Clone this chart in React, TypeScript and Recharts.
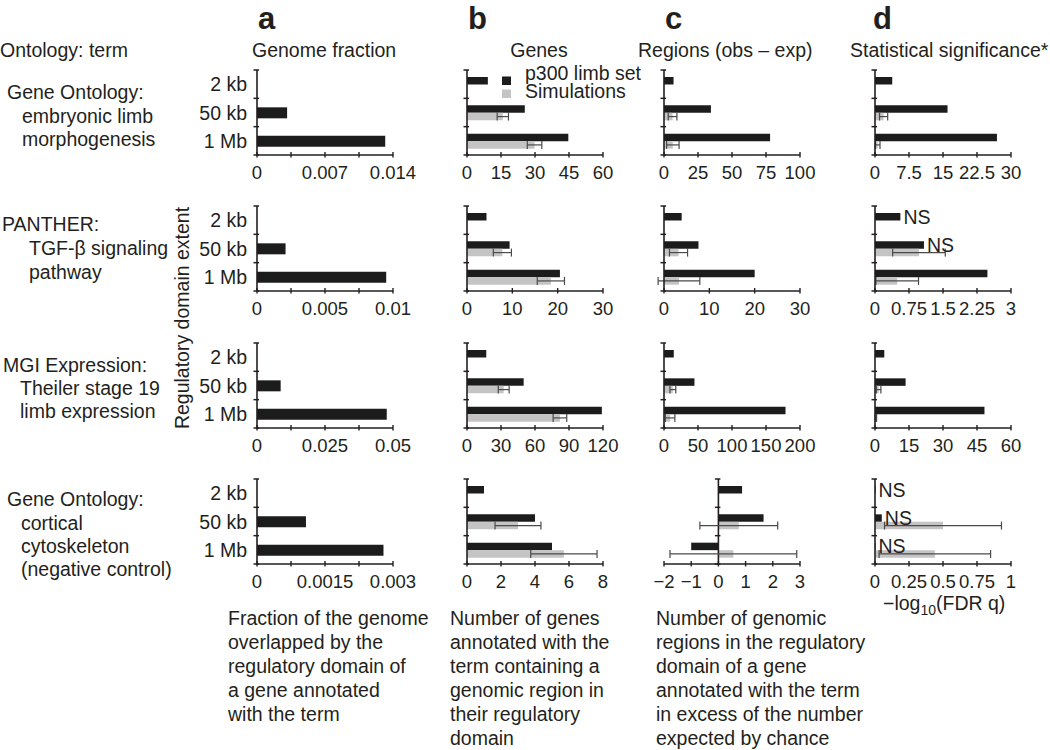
import React from 'react';
import { BarChart, Bar, XAxis, YAxis, ErrorBar, LabelList, ReferenceLine } from 'recharts';

// ---------- data ----------
const extents = ['2 kb', '50 kb', '1 Mb'];
const seriesNames = ['p300 limb set', 'Simulations'];

// a. Genome fraction (p300 only)
const fracGO = [0, 0.0031, 0.0132];
const fracPanther = [0, 0.0021, 0.0095];
const fracMGI = [0, 0.0087, 0.0477];
const fracCortical = [0, 0.00108, 0.00279];

// b. Genes
const genesP300GO = [9.2, 25.5, 44.7];
const genesSimGO = [0, 15.8, 29.8];
const genesErrGO = [0, 2.5, 3.2];
const genesP300Panther = [4.3, 9.4, 20.5];
const genesSimPanther = [0, 7.8, 18.5];
const genesErrPanther = [0, 2.0, 3.0];
const genesP300MGI = [17, 50, 119];
const genesSimMGI = [0, 32.4, 82];
const genesErrMGI = [0, 4.8, 6];
const genesP300Cortical = [1, 4, 5];
const genesSimCortical = [0, 3.0, 5.7];
const genesErrCortical = [0, 1.35, 1.95];

// c. Regions (obs - exp)
const regP300GO = [7, 34.5, 78];
const regSimGO = [0, 6.3, 6.5];
const regErrGO = [0, 3.2, 4.6];
const regP300Panther = [3.9, 7.6, 20];
const regSimPanther = [0, 3.2, 3.3];
const regErrPanther = [0, 2.0, 4.6];
const regP300MGI = [14.4, 44.8, 178.7];
const regSimMGI = [0, 13, 9];
const regErrMGI = [0, 4.3, 7];
const regP300Cortical = [0.87, 1.66, -1];
const regSimCortical = [0, 0.75, 0.55];
const regErrCortical = [0, 1.43, 2.33];

// d. Statistical significance
const sigP300GO = [3.8, 16, 26.9];
const sigSimGO = [0, 1.9, 0.6];
const sigErrGO = [0, 0.9, 0.5];
const sigP300Panther = [0.56, 1.08, 2.48];
const sigSimPanther = [0, 0.97, 0.49];
const sigErrPanther = [0, 0.58, 0.47];
const sigNsPanther = ['NS', 'NS', ''];
const sigP300MGI = [4.1, 13.5, 48.3];
const sigSimMGI = [0, 1.6, 0.4];
const sigErrMGI = [0, 1.0, 0.3];
const sigP300Cortical = [0.004, 0.05, 0.004];
const sigSimCortical = [0, 0.5, 0.44];
const sigErrCortical = [0, 0.43, 0.41];
const sigNsCortical = ['NS', 'NS', 'NS'];

// tick values and labels
const ticksFracGO = [0, 0.0035, 0.007, 0.0105, 0.014];
const labelsFracGO = ['0', '', '0.007', '', '0.014'];
const ticksFracPanther = [0, 0.0025, 0.005, 0.0075, 0.01];
const labelsFracPanther = ['0', '', '0.005', '', '0.01'];
const ticksFracMGI = [0, 0.0125, 0.025, 0.0375, 0.05];
const labelsFracMGI = ['0', '', '0.025', '', '0.05'];
const ticksFracCortical = [0, 0.00075, 0.0015, 0.00225, 0.003];
const labelsFracCortical = ['0', '', '0.0015', '', '0.003'];

const ticksGenesGO = [0, 15, 30, 45, 60];
const ticksGenesPanther = [0, 10, 20, 30];
const ticksGenesMGI = [0, 30, 60, 90, 120];
const ticksGenesCortical = [0, 2, 4, 6, 8];

const ticksRegGO = [0, 25, 50, 75, 100];
const ticksRegPanther = [0, 10, 20, 30];
const ticksRegMGI = [0, 50, 100, 150, 200];
const ticksRegCortical = [-2, -1, 0, 1, 2, 3];

const ticksSigGO = [0, 7.5, 15, 22.5, 30];
const ticksSigPanther = [0, 0.75, 1.5, 2.25, 3];
const ticksSigMGI = [0, 15, 30, 45, 60];
const ticksSigCortical = [0, 0.25, 0.5, 0.75, 1];

// text
const panelLetters = ['a', 'b', 'c', 'd'];
const columnHeaders = ['Genome fraction', 'Genes', 'Regions (obs – exp)', 'Statistical significance*'];
const termLabels = [
  ['Gene Ontology:', 'embryonic limb', 'morphogenesis'],
  ['PANTHER:', 'TGF-β signaling', 'pathway'],
  ['MGI Expression:', 'Theiler stage 19', 'limb expression'],
  ['Gene Ontology:', 'cortical', 'cytoskeleton', '(negative control)'],
];
const descA = ['Fraction of the genome', 'overlapped by the', 'regulatory domain of', 'a gene annotated', 'with the term'];
const descB = ['Number of genes', 'annotated with the', 'term containing a', 'genomic region in', 'their regulatory', 'domain'];
const descC = ['Number of genomic', 'regions in the regulatory', 'domain of a gene', 'annotated with the term', 'in excess of the number', 'expected by chance'];

// ---------- style / layout ----------
const FONT = '"Liberation Sans", Arial, Helvetica, sans-serif';
const INK = '#231f20';
const BLACK_BAR = '#1c1c1c';
const GREY_BAR = '#c4c4c4';
const ERR = '#4a4a4a';
const FS = 19.5;
const TFS = 18.5;
const PLOT_W = 136;
const PLOT_H = 85;
const M_TOP = 10;
const M_RIGHT = 32;
const XH = 40;
const COL_X = [257, 466.5, 663.5, 875];
const ROW_Y = [70, 206, 343, 479];

const fmt = (v: number) => (v < 0 ? '−' + String(-v) : String(v));

const rows = (p: number[], s?: number[], e?: number[], ns?: string[]) =>
  extents.map((ext, i) => ({
    extent: ext,
    p300: p[i],
    sim: s ? s[i] : undefined,
    simErr: e ? e[i] : undefined,
    sig: ns ? ns[i] : '',
  }));

type PanelProps = {
  left: number;
  top: number;
  data: any[];
  ticks: number[];
  tickLabels?: string[];
  catLabels?: boolean;
  withSim?: boolean;
  withNs?: boolean;
  zeroAxis?: boolean;
};

function Panel({ left, top, data, ticks, tickLabels, catLabels, withSim, withNs, zeroAxis }: PanelProps) {
  const axisW = catLabels ? 80 : 14;
  const domain: [number, number] = [ticks[0], ticks[ticks.length - 1]];
  const W = axisW + PLOT_W + M_RIGHT;
  const H = M_TOP + PLOT_H + XH;
  const zeroShift = zeroAxis ? (PLOT_W * (0 - domain[0])) / (domain[1] - domain[0]) : 0;
  const labels = tickLabels || ticks.map(fmt);
  const halfBand = PLOT_H / extents.length / 2;

  const yTick = (p: any) => {
    const idx = p.index;
    const ax = p.x + zeroShift;
    const last = idx === extents.length - 1;
    return (
      <g>
        <line x1={ax - 3.5} x2={ax + 2} y1={p.y - halfBand} y2={p.y - halfBand} stroke={INK} strokeWidth={1.5} />
        {last ? (
          <line x1={ax - 3.5} x2={ax + 2} y1={p.y + halfBand} y2={p.y + halfBand} stroke={INK} strokeWidth={1.5} />
        ) : null}
        {catLabels ? (
          <text x={p.x - 10} y={p.y} dy="0.36em" textAnchor="end" fontFamily={FONT} fontSize={FS} fill={INK}>
            {p.payload.value}
          </text>
        ) : null}
      </g>
    );
  };

  const xTick = (p: any) => {
    const idx = ticks.indexOf(Number(p.payload.value));
    const lab = idx >= 0 ? labels[idx] : '';
    return (
      <g>
        <line x1={p.x} x2={p.x} y1={p.y - 3} y2={p.y + 2.5} stroke={INK} strokeWidth={1.4} />
        {lab ? (
          <text x={p.x} y={p.y + 17} dy="0.36em" textAnchor="middle" fontFamily={FONT} fontSize={TFS} fill={INK}>
            {lab}
          </text>
        ) : null}
      </g>
    );
  };

  return (
    <div style={{ position: 'absolute', left: left - axisW, top: top - M_TOP }}>
      <BarChart
        width={W}
        height={H}
        data={data}
        layout="vertical"
        margin={{ top: M_TOP, right: M_RIGHT, bottom: 0, left: 0 }}
        barGap={0}
        barCategoryGap={0}
      >
        <XAxis
          type="number"
          domain={domain}
          ticks={ticks}
          interval={0}
          allowDataOverflow
          height={XH}
          tickSize={0}
          tickMargin={0}
          tickLine={false}
          axisLine={{ stroke: INK, strokeWidth: 1.6 }}
          tick={xTick}
        />
        <YAxis
          type="category"
          dataKey="extent"
          interval={0}
          width={axisW}
          tickSize={0}
          tickMargin={0}
          tickLine={false}
          axisLine={zeroAxis ? false : { stroke: INK, strokeWidth: 1.6 }}
          tick={yTick}
        />
        {zeroAxis ? <ReferenceLine x={0} stroke={INK} strokeWidth={1.6} /> : null}
        <Bar dataKey="p300" name={seriesNames[0]} fill={BLACK_BAR} barSize={withSim ? 7.5 : 11} isAnimationActive={false}>
          {withNs ? (
            <LabelList dataKey="sig" position="right" offset={3} fill={INK} fontSize={FS} fontFamily={FONT} />
          ) : null}
        </Bar>
        {withSim ? (
          <Bar dataKey="sim" name={seriesNames[1]} fill={GREY_BAR} barSize={7.5} isAnimationActive={false}>
            <ErrorBar dataKey="simErr" direction="x" width={4} stroke={ERR} strokeWidth={1.2} isAnimationActive={false} />
          </Bar>
        ) : null}
      </BarChart>
    </div>
  );
}

const termX = [
  [7, 22],
  [2, 29],
  [3, 20],
  [7, 21],
];
const termBase = [
  [99, 122.5, 146],
  [231, 255, 279],
  [372, 395, 418],
  [506, 530, 553, 576],
];

export default function App() {
  const txt = { fontFamily: FONT, fontSize: FS, fill: INK } as any;
  return (
    <div style={{ position: 'absolute', left: 0, top: 0, width: 1050, height: 750, background: '#fff', overflow: 'hidden' }}>
      {/* column a */}
      <Panel left={COL_X[0]} top={ROW_Y[0]} data={rows(fracGO)} ticks={ticksFracGO} tickLabels={labelsFracGO} catLabels />
      <Panel left={COL_X[0]} top={ROW_Y[1]} data={rows(fracPanther)} ticks={ticksFracPanther} tickLabels={labelsFracPanther} catLabels />
      <Panel left={COL_X[0]} top={ROW_Y[2]} data={rows(fracMGI)} ticks={ticksFracMGI} tickLabels={labelsFracMGI} catLabels />
      <Panel left={COL_X[0]} top={ROW_Y[3]} data={rows(fracCortical)} ticks={ticksFracCortical} tickLabels={labelsFracCortical} catLabels />
      {/* column b */}
      <Panel left={COL_X[1]} top={ROW_Y[0]} data={rows(genesP300GO, genesSimGO, genesErrGO)} ticks={ticksGenesGO} withSim />
      <Panel left={COL_X[1]} top={ROW_Y[1]} data={rows(genesP300Panther, genesSimPanther, genesErrPanther)} ticks={ticksGenesPanther} withSim />
      <Panel left={COL_X[1]} top={ROW_Y[2]} data={rows(genesP300MGI, genesSimMGI, genesErrMGI)} ticks={ticksGenesMGI} withSim />
      <Panel left={COL_X[1]} top={ROW_Y[3]} data={rows(genesP300Cortical, genesSimCortical, genesErrCortical)} ticks={ticksGenesCortical} withSim />
      {/* column c */}
      <Panel left={COL_X[2]} top={ROW_Y[0]} data={rows(regP300GO, regSimGO, regErrGO)} ticks={ticksRegGO} withSim />
      <Panel left={COL_X[2]} top={ROW_Y[1]} data={rows(regP300Panther, regSimPanther, regErrPanther)} ticks={ticksRegPanther} withSim />
      <Panel left={COL_X[2]} top={ROW_Y[2]} data={rows(regP300MGI, regSimMGI, regErrMGI)} ticks={ticksRegMGI} withSim />
      <Panel left={COL_X[2]} top={ROW_Y[3]} data={rows(regP300Cortical, regSimCortical, regErrCortical)} ticks={ticksRegCortical} withSim zeroAxis />
      {/* column d */}
      <Panel left={COL_X[3]} top={ROW_Y[0]} data={rows(sigP300GO, sigSimGO, sigErrGO)} ticks={ticksSigGO} withSim />
      <Panel left={COL_X[3]} top={ROW_Y[1]} data={rows(sigP300Panther, sigSimPanther, sigErrPanther, sigNsPanther)} ticks={ticksSigPanther} withSim withNs />
      <Panel left={COL_X[3]} top={ROW_Y[2]} data={rows(sigP300MGI, sigSimMGI, sigErrMGI)} ticks={ticksSigMGI} withSim />
      <Panel left={COL_X[3]} top={ROW_Y[3]} data={rows(sigP300Cortical, sigSimCortical, sigErrCortical, sigNsCortical)} ticks={ticksSigCortical} withSim withNs />

      <svg width={1050} height={750} style={{ position: 'absolute', left: 0, top: 0, pointerEvents: 'none' }}>
        {/* panel letters */}
        {panelLetters.map((l, i) => (
          <text key={l} x={[258, 468, 665, 873][i]} y={29} fontFamily={FONT} fontWeight={700} fontSize={31} fill={INK}>
            {l}
          </text>
        ))}
        {/* headers */}
        <text x={0} y={57} {...txt}>Ontology: term</text>
        <text x={252} y={57} {...txt}>{columnHeaders[0]}</text>
        <text x={539} y={57} textAnchor="middle" {...txt}>{columnHeaders[1]}</text>
        <text x={638} y={57} {...txt}>{columnHeaders[2]}</text>
        <text x={850} y={57} {...txt}>{columnHeaders[3]}</text>

        {/* ontology term labels */}
        {termLabels.map((lines, r) =>
          lines.map((line, k) => (
            <text key={r + '-' + k} x={k === 0 ? termX[r][0] : termX[r][1]} y={termBase[r][k]} {...txt}>
              {line}
            </text>
          ))
        )}

        {/* vertical axis title */}
        <text x={189} y={318} textAnchor="middle" transform="rotate(-90 189 318)" {...txt}>
          Regulatory domain extent
        </text>

        {/* legend */}
        <rect x={502} y={76.5} width={9} height={8.5} fill={BLACK_BAR} />
        <text x={525} y={80} {...txt}>{seriesNames[0]}</text>
        <rect x={502} y={89.5} width={9} height={8.5} fill={GREY_BAR} />
        <text x={525} y={97.5} {...txt}>{seriesNames[1]}</text>

        {/* descriptions */}
        {descA.map((s, i) => (
          <text key={'a' + i} x={228} y={625 + 24 * i} {...txt}>{s}</text>
        ))}
        {descB.map((s, i) => (
          <text key={'b' + i} x={450} y={625 + 24 * i} {...txt}>{s}</text>
        ))}
        {descC.map((s, i) => (
          <text key={'c' + i} x={656} y={625 + 24 * i} {...txt}>{s}</text>
        ))}
        <text x={883} y={610} {...txt}>
          −log<tspan dy={5} fontSize={14}>10</tspan><tspan dy={-5}>(FDR q)</tspan>
        </text>
      </svg>
    </div>
  );
}
